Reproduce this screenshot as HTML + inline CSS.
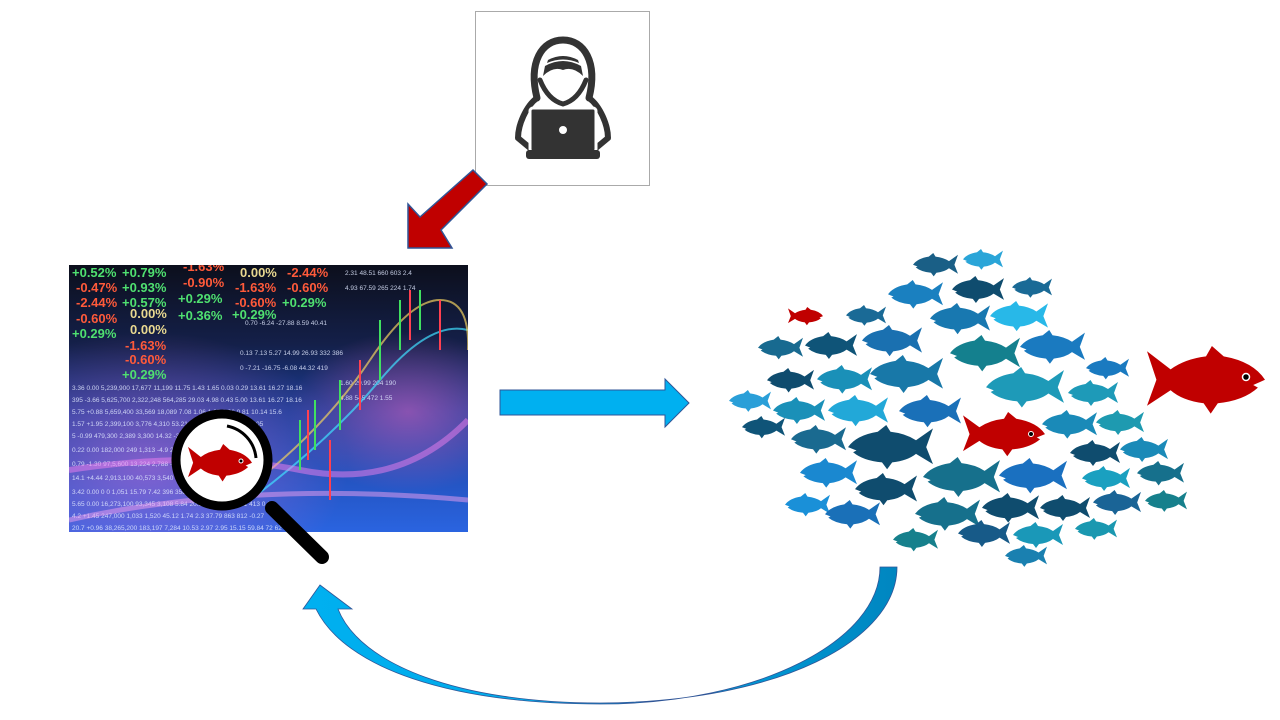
<!DOCTYPE html>
<html><head><meta charset="utf-8"><style>
html,body{margin:0;padding:0;background:#fff;width:1280px;height:720px;overflow:hidden}
</style></head><body>
<svg width="1280" height="720" viewBox="0 0 1280 720" xmlns="http://www.w3.org/2000/svg" font-family="Liberation Sans, sans-serif">
<defs>
<linearGradient id="bg" x1="0" y1="0" x2="0" y2="1">
<stop offset="0" stop-color="#0c0f1c"/><stop offset="0.3" stop-color="#14204a"/><stop offset="0.55" stop-color="#1c3f9a"/><stop offset="1" stop-color="#2a64e0"/>
</linearGradient>
<radialGradient id="pk" cx="0.2" cy="0.75" r="0.5"><stop offset="0" stop-color="#e070e0" stop-opacity="0.5"/><stop offset="1" stop-color="#e070e0" stop-opacity="0"/></radialGradient>
<radialGradient id="pk2" cx="0.85" cy="0.55" r="0.3"><stop offset="0" stop-color="#d060c0" stop-opacity="0.6"/><stop offset="1" stop-color="#d060c0" stop-opacity="0"/></radialGradient>
<linearGradient id="cv" x1="0" y1="0" x2="1" y2="0"><stop offset="0" stop-color="#00b0f0"/><stop offset="0.5" stop-color="#00a8e8"/><stop offset="1" stop-color="#0086c0"/></linearGradient>
<clipPath id="cl"><rect x="69" y="265" width="399" height="267"/></clipPath>
<path id="f" d="M0,26 Q10,12 35,8 L45,0 L50,8 Q68,10 80,18 L100,4 L92,26 L100,46 L80,34 Q70,42 52,44 L46,52 L40,44 Q18,42 6,32 L10,30 Z"/>
</defs>

<!-- hacker box -->
<rect x="475.5" y="11.5" width="174" height="174" fill="#fff" stroke="#aaa"/>
<g stroke="#333" fill="none" stroke-linecap="round" stroke-linejoin="round">
<path d="M537,98 C528,62 542,40 563,40 C584,40 598,62 589,98" stroke-width="7"/>
<path d="M537,98 C526,106 518,125 518,138 L530,148 M589,98 C600,106 608,125 608,138 L596,148" stroke-width="6"/>
<path d="M540,80 Q548,100 563,104 Q578,100 586,80" stroke-width="5"/>
</g>
<g fill="#333">
<path d="M545,66 Q563,56 581,66 L583,76 Q573,66 563,70 Q553,66 543,76 Z"/>
<path d="M547,63 Q563,56 579,63 L578,60 Q563,52 548,60 Z"/>
<rect x="530" y="108" width="66" height="44" rx="3" stroke="#fff" stroke-width="3"/>
<rect x="526" y="150" width="74" height="9" rx="3"/>
<circle cx="563" cy="130" r="4" fill="#fff"/>
</g>

<!-- red arrow -->
<polygon points="473,170 487,184 441,230 452,248 408,248 408,204 420,217" fill="#c00000" stroke="#2f5597" stroke-width="1.5"/>

<!-- stock image -->
<g clip-path="url(#cl)">
<rect x="69" y="265" width="399" height="267" fill="url(#bg)"/>
<rect x="69" y="265" width="399" height="267" fill="url(#pk)"/>
<rect x="69" y="265" width="399" height="267" fill="url(#pk2)"/>
<g font-weight="bold" font-size="13">
<text x="72" y="277" fill="#4fe070">+0.52%</text><text x="122" y="277" fill="#4fe070">+0.79%</text><text x="183" y="271" fill="#ff5a3a">-1.63%</text><text x="240" y="277" fill="#e8d890">0.00%</text><text x="287" y="277" fill="#ff5a3a">-2.44%</text>
<text x="76" y="292" fill="#ff5a3a">-0.47%</text><text x="122" y="292" fill="#4fe070">+0.93%</text><text x="183" y="287" fill="#ff5a3a">-0.90%</text><text x="235" y="292" fill="#ff5a3a">-1.63%</text><text x="287" y="292" fill="#ff5a3a">-0.60%</text>
<text x="76" y="307" fill="#ff5a3a">-2.44%</text><text x="122" y="307" fill="#4fe070">+0.57%</text><text x="178" y="303" fill="#4fe070">+0.29%</text><text x="235" y="307" fill="#ff5a3a">-0.60%</text><text x="282" y="307" fill="#4fe070">+0.29%</text>
<text x="76" y="323" fill="#ff5a3a">-0.60%</text><text x="130" y="318" fill="#e8d890">0.00%</text><text x="178" y="320" fill="#4fe070">+0.36%</text><text x="232" y="319" fill="#4fe070">+0.29%</text>
<text x="72" y="338" fill="#4fe070">+0.29%</text><text x="130" y="334" fill="#e8d890">0.00%</text>
<text x="125" y="350" fill="#ff5a3a">-1.63%</text><text x="125" y="364" fill="#ff5a3a">-0.60%</text><text x="122" y="379" fill="#4fe070">+0.29%</text>
</g>
<g font-size="6.5" fill="#e0e8ff" opacity="0.85">
<text x="72" y="390">3.36  0.00  5,239,900  17,677  11,199  11.75  1.43  1.65  0.03  0.29  13.61  16.27  18.16</text>
<text x="72" y="402">395  -3.66  5,625,700  2,322,248  564,285  29.03  4.98  0.43  5.00  13.61  16.27  18.16</text>
<text x="72" y="414">5.75  +0.88  5,659,400  33,569  18,089  7.08  1.06  1.05  0.26  0.81  10.14  15.6</text>
<text x="72" y="426">1.57  +1.95  2,399,100  3,776  4,310  53.21  8.26  0.11  0.04  0.53  21.05</text>
<text x="72" y="438">5  -0.99  479,300  2,389  3,300     14.32  -3.02     34.39     457  326  0.22</text>
<text x="72" y="452">0.22  0.00  182,000  249  1,313    -4.9  20.06  4.07  28.24  245  169  0.04</text>
<text x="72" y="466">0.79  -1.30  97,5,600  13,224  2,788       -24.85     18.75   230  206  0.34</text>
<text x="72" y="480">14.1  +4.44  2,913,100  40,573  3,540        35.05</text>
<text x="72" y="494">3.42  0.00  0  0  1,051     15.79  7.42       396  358</text>
<text x="72" y="506">5.65  0.00  16,273,100  93,345  3,108    5.84  20.3  3.98  36.34  451  413  0.11</text>
<text x="72" y="518">4.2  +1.45  247,000  1,033  1,520  45.12  1.74  2.3   37.79  863  812  -0.27</text>
<text x="72" y="530">20.7  +0.96  38,265,200  183,197  7,284  10.53  2.97  2.95  15.15  59.84  72  62  0.36</text>
<text x="345" y="275">2.31  48.51  660  603  2.4</text>
<text x="345" y="290">4.93  67.59  265  224  1.74</text>
<text x="245" y="325">0.70  -6.24  -27.88  8.59  40.41</text>
<text x="240" y="355">0.13  7.13  5.27  14.99  26.93  332  386</text>
<text x="240" y="370">0  -7.21  -16.75  -6.08  44.32  419</text>
<text x="340" y="385">1.60  29.99  204  190</text>
<text x="340" y="400">4.88  545  472  1.55</text>
</g>
<g fill="none" stroke-width="2">
<path d="M250,500 Q330,440 380,380 T468,330" stroke="#40e0ff" opacity="0.7"/>
<path d="M270,470 Q330,420 370,360 T440,300 468,350" stroke="#f0d060" opacity="0.7"/>
<path d="M69,470 Q200,450 300,470 T468,420" stroke="#f080f0" stroke-width="6" opacity="0.5"/>
<path d="M69,520 Q250,480 468,500" stroke="#f0a0f0" stroke-width="5" opacity="0.5"/>
</g>
<g stroke="#40e060" stroke-width="2">
<line x1="300" y1="420" x2="300" y2="470"/><line x1="315" y1="400" x2="315" y2="450"/><line x1="340" y1="380" x2="340" y2="430"/><line x1="380" y1="320" x2="380" y2="380"/><line x1="400" y1="300" x2="400" y2="350"/><line x1="420" y1="290" x2="420" y2="330"/>
</g>
<g stroke="#ff4050" stroke-width="2">
<line x1="308" y1="410" x2="308" y2="460"/><line x1="360" y1="360" x2="360" y2="410"/><line x1="410" y1="290" x2="410" y2="340"/><line x1="440" y1="300" x2="440" y2="350"/><line x1="330" y1="440" x2="330" y2="500"/>
</g>
</g>

<!-- magnifier -->
<line x1="272" y1="508" x2="322" y2="557" stroke="#000" stroke-width="14" stroke-linecap="round"/>
<circle cx="222" cy="460" r="46" fill="#fff" stroke="#000" stroke-width="9"/>
<path d="M227,426 A36,36 0 0 1 256,458" fill="none" stroke="#000" stroke-width="3"/>
<g transform="translate(252,444) scale(-0.64,0.72)" fill="#c00000"><use href="#f"/></g>
<circle cx="241" cy="461" r="2" fill="#000" stroke="#fff" stroke-width="1"/>

<!-- blue arrow -->
<polygon points="500,390 665,390 665,379 689,403 665,427 665,415 500,415" fill="#00b0f0" stroke="#2f5597" stroke-width="1"/>

<!-- curved arrow -->
<path d="M880,567 L897,567 C897,640 780,702 600,703 C460,703 360,665 338,609 L352,609 L320,585 L303,609 L316,609 C345,668 450,704 600,704 C760,704 880,640 880,567 Z" fill="url(#cv)" stroke="#2f5597" stroke-width="0.8"/>

<!-- fish school -->
<g>
<g fill="#1a5f86" transform="translate(913,253) scale(0.45)"><use href="#f"/></g>
<g fill="#2aa5d8" transform="translate(963,249) scale(0.4)"><use href="#f"/></g>
<g fill="#1a80c0" transform="translate(888,280) scale(0.55)"><use href="#f"/></g>
<g fill="#0f4c6e" transform="translate(952,276) scale(0.52)"><use href="#f"/></g>
<g fill="#1a6a96" transform="translate(1012,277) scale(0.4)"><use href="#f"/></g>
<g fill="#c00000" transform="translate(823,307) scale(-0.35,0.35)"><use href="#f"/></g>
<g fill="#1a6a96" transform="translate(846,305) scale(0.4)"><use href="#f"/></g>
<g fill="#1878b0" transform="translate(930,303) scale(0.6)"><use href="#f"/></g>
<g fill="#28b8e8" transform="translate(990,301) scale(0.58)"><use href="#f"/></g>
<g fill="#186a90" transform="translate(758,336) scale(0.45)"><use href="#f"/></g>
<g fill="#0f5478" transform="translate(805,332) scale(0.52)"><use href="#f"/></g>
<g fill="#1a70b0" transform="translate(862,325) scale(0.6)"><use href="#f"/></g>
<g fill="#14808e" transform="translate(950,335) scale(0.7)"><use href="#f"/></g>
<g fill="#1a7ac0" transform="translate(1020,330) scale(0.65)"><use href="#f"/></g>
<g fill="#1a7ac0" transform="translate(1086,357) scale(0.43)"><use href="#f"/></g>
<g fill="#0f4c6e" transform="translate(767,368) scale(0.47)"><use href="#f"/></g>
<g fill="#1a90b8" transform="translate(817,365) scale(0.55)"><use href="#f"/></g>
<g fill="#1878a8" transform="translate(870,355) scale(0.73)"><use href="#f"/></g>
<g fill="#1e9ab8" transform="translate(986,367) scale(0.78)"><use href="#f"/></g>
<g fill="#1e9ab8" transform="translate(1068,380) scale(0.5)"><use href="#f"/></g>
<g fill="#c00000" transform="translate(1265,346) scale(-1.18,1.3)"><use href="#f"/></g>
<circle cx="1246" cy="377" r="3.5" fill="#000" stroke="#fff" stroke-width="1.5"/>
<g fill="#2a9fd8" transform="translate(729,390) scale(0.42)"><use href="#f"/></g>
<g fill="#1a90b8" transform="translate(773,397) scale(0.52)"><use href="#f"/></g>
<g fill="#22a8d8" transform="translate(828,395) scale(0.6)"><use href="#f"/></g>
<g fill="#1a70b8" transform="translate(899,395) scale(0.62)"><use href="#f"/></g>
<g fill="#1a8ab8" transform="translate(1042,410) scale(0.55)"><use href="#f"/></g>
<g fill="#1e9ab0" transform="translate(1096,410) scale(0.48)"><use href="#f"/></g>
<g fill="#0f5478" transform="translate(742,416) scale(0.43)"><use href="#f"/></g>
<g fill="#1a6a90" transform="translate(791,425) scale(0.55)"><use href="#f"/></g>
<g fill="#0f4c6e" transform="translate(848,425) scale(0.85)"><use href="#f"/></g>
<g fill="#c00000" transform="translate(1045,412) scale(-0.82,0.85)"><use href="#f"/></g>
<circle cx="1031" cy="434" r="2.5" fill="#000" stroke="#fff" stroke-width="1"/>
<g fill="#0f4c6e" transform="translate(1070,440) scale(0.5)"><use href="#f"/></g>
<g fill="#1a8ab8" transform="translate(1120,437) scale(0.48)"><use href="#f"/></g>
<g fill="#1a88d0" transform="translate(800,458) scale(0.57)"><use href="#f"/></g>
<g fill="#0f4c6e" transform="translate(855,473) scale(0.62)"><use href="#f"/></g>
<g fill="#16708c" transform="translate(923,457) scale(0.77)"><use href="#f"/></g>
<g fill="#1a70c0" transform="translate(999,458) scale(0.68)"><use href="#f"/></g>
<g fill="#1aa0c0" transform="translate(1082,466) scale(0.48)"><use href="#f"/></g>
<g fill="#16708c" transform="translate(1137,461) scale(0.47)"><use href="#f"/></g>
<g fill="#1a90d8" transform="translate(785,493) scale(0.45)"><use href="#f"/></g>
<g fill="#1a70b8" transform="translate(825,500) scale(0.55)"><use href="#f"/></g>
<g fill="#16708c" transform="translate(915,497) scale(0.65)"><use href="#f"/></g>
<g fill="#0f4c6e" transform="translate(982,493) scale(0.57)"><use href="#f"/></g>
<g fill="#0f4c6e" transform="translate(1040,495) scale(0.5)"><use href="#f"/></g>
<g fill="#1a6496" transform="translate(1093,490) scale(0.48)"><use href="#f"/></g>
<g fill="#16808c" transform="translate(1145,490) scale(0.42)"><use href="#f"/></g>
<g fill="#16808c" transform="translate(893,528) scale(0.45)"><use href="#f"/></g>
<g fill="#175a88" transform="translate(958,520) scale(0.52)"><use href="#f"/></g>
<g fill="#1a98b8" transform="translate(1013,522) scale(0.5)"><use href="#f"/></g>
<g fill="#1a98b0" transform="translate(1075,518) scale(0.42)"><use href="#f"/></g>
<g fill="#1a80b0" transform="translate(1005,545) scale(0.42)"><use href="#f"/></g>
</g>
</svg>
</body></html>
